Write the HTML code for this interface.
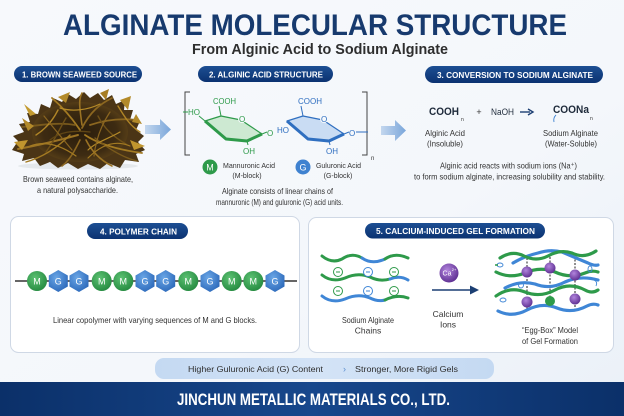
<!DOCTYPE html>
<html><head><meta charset="utf-8"><style>
html,body{margin:0;padding:0;background:#f5f8fc;}
svg{display:block;}
text{font-family:"Liberation Sans",sans-serif;}
</style></head><body>
<svg width="624" height="416" viewBox="0 0 624 416" xmlns="http://www.w3.org/2000/svg">
<defs>
<linearGradient id="bg" x1="0" y1="0" x2="1" y2="1">
<stop offset="0" stop-color="#f7f9fc"/><stop offset="0.6" stop-color="#f4f7fb"/><stop offset="1" stop-color="#eaf0f8"/>
</linearGradient>
<linearGradient id="pill" x1="0" y1="0" x2="0" y2="1">
<stop offset="0" stop-color="#1d4f93"/><stop offset="1" stop-color="#0b3271"/>
</linearGradient>
<linearGradient id="foot" x1="0" y1="0" x2="1" y2="0">
<stop offset="0" stop-color="#0b3069"/><stop offset="0.5" stop-color="#17478c"/><stop offset="1" stop-color="#0b3069"/>
</linearGradient>
<linearGradient id="arr" x1="0" y1="0" x2="1" y2="0">
<stop offset="0" stop-color="#c3d7ee"/><stop offset="1" stop-color="#7aa6da"/>
</linearGradient>
<radialGradient id="gM" cx="0.4" cy="0.35" r="0.7">
<stop offset="0" stop-color="#5cc172"/><stop offset="1" stop-color="#24893f"/>
</radialGradient>
<radialGradient id="gG" cx="0.4" cy="0.35" r="0.7">
<stop offset="0" stop-color="#6aa6e6"/><stop offset="1" stop-color="#2c69ba"/>
</radialGradient>
<radialGradient id="gCa" cx="0.4" cy="0.35" r="0.7">
<stop offset="0" stop-color="#b184dc"/><stop offset="1" stop-color="#5b2c8f"/>
</radialGradient>
<radialGradient id="sw" cx="0.5" cy="0.5" r="0.55">
<stop offset="0" stop-color="#2a1d0c"/><stop offset="0.7" stop-color="#3d2b12"/><stop offset="1" stop-color="#5e4419"/>
</radialGradient>
<linearGradient id="bpill" x1="0" y1="0" x2="1" y2="0">
<stop offset="0" stop-color="#c4d9f2"/><stop offset="0.5" stop-color="#d3e3f6"/><stop offset="1" stop-color="#c4d9f2"/>
</linearGradient>
</defs>

<rect x="0" y="0" width="624" height="416" fill="url(#bg)"/>

<!-- Title -->
<text x="63" y="35" font-size="30" font-weight="bold" fill="#173a6e" textLength="504" lengthAdjust="spacingAndGlyphs">ALGINATE MOLECULAR STRUCTURE</text>
<text x="192" y="54" font-size="14.5" font-weight="bold" fill="#2e2e2e" textLength="256" lengthAdjust="spacingAndGlyphs">From Alginic Acid to Sodium Alginate</text>

<!-- Pills row 1 -->
<rect x="14" y="66" width="128" height="16" rx="8" fill="url(#pill)"/>
<text x="22" y="77.5" font-size="8.5" font-weight="bold" fill="#fff" textLength="115" lengthAdjust="spacingAndGlyphs">1. BROWN SEAWEED SOURCE</text>
<rect x="198" y="66" width="135" height="16" rx="8" fill="url(#pill)"/>
<text x="209" y="77.5" font-size="8.5" font-weight="bold" fill="#fff" textLength="114" lengthAdjust="spacingAndGlyphs">2. ALGINIC ACID STRUCTURE</text>
<rect x="425" y="66" width="178" height="17" rx="8.5" fill="url(#pill)"/>
<text x="437" y="78" font-size="8.5" font-weight="bold" fill="#fff" textLength="156" lengthAdjust="spacingAndGlyphs">3. CONVERSION TO SODIUM ALGINATE</text>

<!-- Seaweed -->
<ellipse cx="78" cy="166" rx="60" ry="3.5" fill="#dde1e6" opacity="0.7"/>
<path d="M12,150 L18,141 L13,136 L24,132 L19,124 L30,122 L27,113 L38,114 L41,104 L50,108 L53,98 L62,102 L68,94 L76,99 L84,92 L90,98 L98,93 L104,100 L112,95 L116,104 L125,100 L124,110 L133,110 L130,120 L140,121 L136,130 L144,136 L138,142 L145,150 L136,154 L139,162 L125,160 L120,168 L108,163 L100,169 L88,164 L78,169 L68,163 L58,168 L50,162 L40,166 L34,158 L22,161 L24,154 Z" fill="#4b3516"/>
<ellipse cx="80" cy="132" rx="48" ry="30" fill="url(#sw)"/>
<g fill="none" stroke-linecap="round">
<path d="M80,130 C70,115 60,105 52,98" stroke="#a37a22" stroke-width="1.8"/>
<path d="M82,128 C90,112 100,104 112,98" stroke="#8c6720" stroke-width="1.8"/>
<path d="M78,135 C60,140 40,145 18,149" stroke="#9b7324" stroke-width="2"/>
<path d="M85,135 C100,145 120,150 142,153" stroke="#a37a22" stroke-width="1.8"/>
<path d="M80,140 C75,150 70,160 62,166" stroke="#8c6720" stroke-width="1.6"/>
<path d="M86,140 C92,152 100,160 112,166" stroke="#9b7324" stroke-width="1.6"/>
<path d="M75,125 C60,122 40,125 22,127" stroke="#7a5a1c" stroke-width="1.8"/>
<path d="M90,125 C105,120 120,118 136,120" stroke="#8c6720" stroke-width="1.8"/>
<path d="M70,135 C55,150 40,158 26,162" stroke="#a37a22" stroke-width="1.4"/>
<path d="M95,138 C110,150 125,158 137,161" stroke="#7a5a1c" stroke-width="1.4"/>
<path d="M82,125 C80,110 78,100 82,93" stroke="#9b7324" stroke-width="1.6"/>
<path d="M66,118 C60,128 56,138 46,152" stroke="#6e5018" stroke-width="1.4"/>
<path d="M98,116 C104,128 112,136 126,144" stroke="#6e5018" stroke-width="1.4"/>
<path d="M60,108 C72,112 88,110 100,104" stroke="#b58a28" stroke-width="1.2"/>
<path d="M50,140 C60,132 72,130 90,132" stroke="#5f4515" stroke-width="1.3"/>
<path d="M88,150 C96,142 110,138 120,132" stroke="#b58a28" stroke-width="1.2"/>
<path d="M36,135 C44,130 52,122 58,110" stroke="#b08526" stroke-width="1.4"/>
<path d="M118,106 C124,116 130,126 140,132" stroke="#b08526" stroke-width="1.4"/>
<path d="M44,116 C52,126 62,138 72,150" stroke="#8a6520" stroke-width="1.2"/>
<path d="M110,112 C102,124 96,138 94,156" stroke="#8a6520" stroke-width="1.2"/>
<path d="M30,146 C46,140 62,146 76,156" stroke="#a37a22" stroke-width="1.2"/>
<path d="M130,146 C116,140 102,144 88,158" stroke="#a37a22" stroke-width="1.2"/>
</g>
<path d="M22,118 L34,126 L28,131 Z" fill="#b38a2a"/>
<path d="M14,142 L28,140 L22,150 Z" fill="#c0952e"/>
<path d="M120,100 L131,96 L128,110 Z" fill="#b38a2a"/>
<path d="M130,140 L145,146 L134,150 Z" fill="#c0952e"/>
<path d="M58,97 L70,92 L66,103 Z" fill="#b38a2a"/>
<path d="M100,93 L109,89 L106,100 Z" fill="#a67d24"/>
<path d="M24,104 L36,114 L30,116 Z" fill="#c39a30"/>
<path d="M136,114 L142,124 L132,122 Z" fill="#b38a2a"/>

<text x="23" y="182" font-size="8.5" fill="#333" textLength="110" lengthAdjust="spacingAndGlyphs">Brown seaweed contains alginate,</text>
<text x="37" y="193" font-size="8.5" fill="#333" textLength="81" lengthAdjust="spacingAndGlyphs">a natural polysaccharide.</text>

<!-- Arrows -->
<path d="M145,125 H160 V119 L171,129.5 L160,140 V134 H145 Z" fill="url(#arr)"/>
<path d="M381,126 H395 V120 L406,130.5 L395,141 V135 H381 Z" fill="url(#arr)"/>

<!-- Section 2 structure -->
<path d="M190,92 H185 V155 H190" fill="none" stroke="#444" stroke-width="1"/>
<path d="M362,92 H367 V155 H362" fill="none" stroke="#444" stroke-width="1"/>
<text x="371" y="160" font-size="6" fill="#333">n</text>

<!-- green ring -->
<polygon points="205,121 221,116 241,120 262,134 247,141 226,139" fill="#cde9d2" stroke="#2e9a4a" stroke-width="1.2" stroke-linejoin="round"/>
<polyline points="205,121 226,139 247,141 262,134" fill="none" stroke="#2e9a4a" stroke-width="3" stroke-linejoin="round"/>
<line x1="221" y1="116" x2="219" y2="106" stroke="#2e9a4a" stroke-width="1"/>
<text x="213" y="104" font-size="8" fill="#2e9a4a" textLength="23" lengthAdjust="spacingAndGlyphs">COOH</text>
<line x1="183" y1="112" x2="188" y2="112" stroke="#2e9a4a" stroke-width="1"/>
<text x="188" y="115" font-size="8" fill="#2e9a4a">HO</text>
<line x1="199" y1="116" x2="205" y2="121" stroke="#2e9a4a" stroke-width="1"/>
<circle cx="242" cy="119" r="4" fill="#f6f9fc"/>
<text x="239" y="122" font-size="8" fill="#2e9a4a">O</text>
<line x1="262" y1="134" x2="267" y2="132" stroke="#2e9a4a" stroke-width="1"/>
<text x="267" y="136" font-size="8" fill="#2e9a4a">O</text>
<line x1="247" y1="141" x2="248" y2="145" stroke="#2e9a4a" stroke-width="1"/>
<text x="243" y="154" font-size="8" fill="#2e9a4a">OH</text>

<!-- blue ring -->
<polygon points="287,121 303,116 323,120 344,134 329,141 308,139" fill="#c9dcf3" stroke="#2f6fc0" stroke-width="1.2" stroke-linejoin="round"/>
<polyline points="287,121 308,139 329,141 344,134" fill="none" stroke="#2f6fc0" stroke-width="3" stroke-linejoin="round"/>
<line x1="303" y1="116" x2="301" y2="106" stroke="#2f6fc0" stroke-width="1"/>
<text x="298" y="104" font-size="8" fill="#2f6fc0" textLength="24" lengthAdjust="spacingAndGlyphs">COOH</text>
<text x="277" y="133" font-size="8" fill="#2f6fc0">HO</text>
<circle cx="324" cy="119" r="4" fill="#f6f9fc"/>
<text x="321" y="122" font-size="8" fill="#2f6fc0">O</text>
<line x1="344" y1="134" x2="349" y2="132" stroke="#2f6fc0" stroke-width="1"/>
<text x="349" y="136" font-size="8" fill="#2f6fc0">O</text>
<line x1="356" y1="132" x2="368" y2="132" stroke="#2f6fc0" stroke-width="1"/>
<line x1="329" y1="141" x2="330" y2="145" stroke="#2f6fc0" stroke-width="1"/>
<text x="326" y="154" font-size="8" fill="#2f6fc0">OH</text>

<!-- legend -->
<circle cx="210" cy="167" r="7.5" fill="#2e9a4a"/>
<text x="210" y="170.5" font-size="9" fill="#fff" text-anchor="middle">M</text>
<text x="223" y="168" font-size="7.5" fill="#333" textLength="52" lengthAdjust="spacingAndGlyphs">Mannuronic Acid</text>
<text x="247" y="178" font-size="7" fill="#333" text-anchor="middle">(M-block)</text>
<circle cx="303" cy="167" r="7.5" fill="#3f82d0"/>
<text x="303" y="170.5" font-size="9" fill="#fff" text-anchor="middle">G</text>
<text x="316" y="168" font-size="7.5" fill="#333" textLength="45" lengthAdjust="spacingAndGlyphs">Guluronic Acid</text>
<text x="338" y="178" font-size="7" fill="#333" text-anchor="middle">(G-block)</text>

<text x="222" y="194" font-size="8.5" fill="#333" textLength="111" lengthAdjust="spacingAndGlyphs">Alginate consists of linear chains of</text>
<text x="216" y="205" font-size="8.5" fill="#333" textLength="127" lengthAdjust="spacingAndGlyphs">mannuronic (M) and guluronic (G) acid units.</text>

<!-- Section 3 -->
<text x="429" y="115" font-size="11" font-weight="bold" fill="#1e2a3a" textLength="30" lengthAdjust="spacingAndGlyphs">COOH</text>
<text x="461" y="121" font-size="5" fill="#333">n</text>
<text x="479" y="115" font-size="9" fill="#333" text-anchor="middle">+</text>
<text x="491" y="115" font-size="9" fill="#1e2a3a" textLength="23" lengthAdjust="spacingAndGlyphs">NaOH</text>
<line x1="520" y1="112" x2="530" y2="112" stroke="#1c3f73" stroke-width="1.4"/>
<path d="M528,109 L533,112 L528,115" fill="none" stroke="#1c3f73" stroke-width="1.4"/>
<text x="553" y="113" font-size="11" font-weight="bold" fill="#1e2a3a" textLength="36" lengthAdjust="spacingAndGlyphs">COONa</text>
<text x="590" y="120" font-size="5" fill="#333">n</text>
<path d="M556,115 Q553,118 554,122" fill="none" stroke="#3f82d0" stroke-width="0.9"/>

<text x="425" y="136" font-size="8.5" fill="#333" textLength="40" lengthAdjust="spacingAndGlyphs">Alginic Acid</text>
<text x="427" y="146.5" font-size="8" fill="#333" textLength="36" lengthAdjust="spacingAndGlyphs">(Insoluble)</text>
<text x="543" y="136" font-size="8.5" fill="#333" textLength="55" lengthAdjust="spacingAndGlyphs">Sodium Alginate</text>
<text x="545" y="146.5" font-size="8" fill="#333" textLength="52" lengthAdjust="spacingAndGlyphs">(Water-Soluble)</text>
<text x="440" y="168.5" font-size="8.5" fill="#333" textLength="137" lengthAdjust="spacingAndGlyphs">Alginic acid reacts with sodium ions (Na⁺)</text>
<text x="414" y="179.5" font-size="8.5" fill="#333" textLength="191" lengthAdjust="spacingAndGlyphs">to form sodium alginate, increasing solubility and stability.</text>

<!-- Panel 4 -->
<rect x="10.5" y="216.5" width="289" height="136" rx="8" fill="#fff" stroke="#cfd8e5" stroke-width="1"/>
<rect x="87" y="223" width="101" height="16" rx="8" fill="url(#pill)"/>
<text x="100" y="234.5" font-size="8.5" font-weight="bold" fill="#fff" textLength="77" lengthAdjust="spacingAndGlyphs">4. POLYMER CHAIN</text>
<line x1="15" y1="281" x2="297" y2="281" stroke="#333" stroke-width="1.5"/>
<g font-size="9" fill="#fff" text-anchor="middle">
<circle cx="37" cy="281" r="10" fill="url(#gM)"/><text x="37" y="284.5">M</text>
<polygon points="58.3,270 67.8,275.5 67.8,286.5 58.3,292 48.8,286.5 48.8,275.5" fill="url(#gG)"/><text x="58.3" y="284.5">G</text>
<polygon points="79,270 88.5,275.5 88.5,286.5 79,292 69.5,286.5 69.5,275.5" fill="url(#gG)"/><text x="79" y="284.5">G</text>
<circle cx="101.7" cy="281" r="10" fill="url(#gM)"/><text x="101.7" y="284.5">M</text>
<circle cx="123.3" cy="281" r="10" fill="url(#gM)"/><text x="123.3" y="284.5">M</text>
<polygon points="145,270 154.5,275.5 154.5,286.5 145,292 135.5,286.5 135.5,275.5" fill="url(#gG)"/><text x="145" y="284.5">G</text>
<polygon points="165.7,270 175.2,275.5 175.2,286.5 165.7,292 156.2,286.5 156.2,275.5" fill="url(#gG)"/><text x="165.7" y="284.5">G</text>
<circle cx="188.3" cy="281" r="10" fill="url(#gM)"/><text x="188.3" y="284.5">M</text>
<polygon points="210,270 219.5,275.5 219.5,286.5 210,292 200.5,286.5 200.5,275.5" fill="url(#gG)"/><text x="210" y="284.5">G</text>
<circle cx="231.7" cy="281" r="10" fill="url(#gM)"/><text x="231.7" y="284.5">M</text>
<circle cx="253.3" cy="281" r="10" fill="url(#gM)"/><text x="253.3" y="284.5">M</text>
<polygon points="275,270 284.5,275.5 284.5,286.5 275,292 265.5,286.5 265.5,275.5" fill="url(#gG)"/><text x="275" y="284.5">G</text>
</g>
<text x="53" y="323" font-size="8.5" fill="#333" textLength="204" lengthAdjust="spacingAndGlyphs">Linear copolymer with varying sequences of M and G blocks.</text>

<!-- Panel 5 -->
<rect x="308.5" y="217.5" width="305" height="135" rx="8" fill="#fff" stroke="#cfd8e5" stroke-width="1"/>
<rect x="365" y="223" width="180" height="15.5" rx="7.75" fill="url(#pill)"/>
<text x="376" y="234.2" font-size="8.5" font-weight="bold" fill="#fff" textLength="159" lengthAdjust="spacingAndGlyphs">5. CALCIUM-INDUCED GEL FORMATION</text>

<g fill="none" stroke-width="3" stroke-linecap="round">
<path d="M322,256 Q332,264 342,259 Q352,252 362,258" stroke="#2e9a4a"/>
<path d="M362,258 Q372,265 385,259" stroke="#3f86d6"/>
<path d="M385,259 Q395,252 408,258" stroke="#2e9a4a"/>
<path d="M322,275 Q332,283 345,278 Q358,272 370,277 Q380,282 390,279" stroke="#2e9a4a"/>
<path d="M390,279 Q400,275 408,280" stroke="#3f86d6"/>
<path d="M322,296 Q332,304 345,299 Q358,293 370,298 Q378,302 385,300" stroke="#3f86d6"/>
<path d="M385,300 Q397,294 408,298" stroke="#2e9a4a"/>
</g>
<g fill="#fff" stroke-width="1">
<circle cx="338" cy="272" r="4.5" stroke="#2e9a4a"/>
<circle cx="368" cy="272" r="4.5" stroke="#3f86d6"/>
<circle cx="394" cy="272" r="4.5" stroke="#2e9a4a"/>
<circle cx="338" cy="291" r="4.5" stroke="#2e9a4a"/>
<circle cx="368" cy="291" r="4.5" stroke="#3f86d6"/>
<circle cx="394" cy="291" r="4.5" stroke="#2e9a4a"/>
</g>
<g stroke-width="1">
<line x1="336" y1="272" x2="340" y2="272" stroke="#2e9a4a"/>
<line x1="366" y1="272" x2="370" y2="272" stroke="#3f86d6"/>
<line x1="392" y1="272" x2="396" y2="272" stroke="#2e9a4a"/>
<line x1="336" y1="291" x2="340" y2="291" stroke="#2e9a4a"/>
<line x1="366" y1="291" x2="370" y2="291" stroke="#3f86d6"/>
<line x1="392" y1="291" x2="396" y2="291" stroke="#2e9a4a"/>
</g>
<text x="368" y="323" font-size="8.5" fill="#333" text-anchor="middle" textLength="52" lengthAdjust="spacingAndGlyphs">Sodium Alginate</text>
<text x="368" y="333.5" font-size="8.5" fill="#333" text-anchor="middle">Chains</text>

<circle cx="449" cy="273" r="9.5" fill="url(#gCa)"/>
<text x="447" y="275.5" font-size="7" fill="#fff" text-anchor="middle">Ca</text>
<text x="454" y="271" font-size="4" fill="#fff" text-anchor="middle">2+</text>
<line x1="432" y1="290" x2="472" y2="290" stroke="#1c3f73" stroke-width="1.6"/>
<path d="M470,285.5 L479,290 L470,294.5 Z" fill="#1c3f73"/>
<text x="448" y="317" font-size="8.5" fill="#333" text-anchor="middle">Calcium</text>
<text x="448" y="327.5" font-size="8.5" fill="#333" text-anchor="middle">Ions</text>

<!-- egg box -->
<g stroke="#222" stroke-width="1" stroke-dasharray="2,1.5">
<line x1="527" y1="258" x2="527" y2="310"/>
<line x1="550" y1="250" x2="550" y2="300"/>
<line x1="575" y1="256" x2="575" y2="310"/>
</g>
<g fill="none" stroke-width="3.2" stroke-linecap="round">
<path d="M513,263 Q525,256 538,253 Q550,249 562,252 Q576,258 588,263 Q594,266 598,265" stroke="#3f86d6"/>
<path d="M500,258 Q512,250 524,256 Q536,262 548,256 Q560,249 572,253 Q584,259 596,251" stroke="#2e9a4a"/>
<path d="M496,272 Q510,279 525,273 Q540,266 555,272 Q570,279 585,273 Q592,270 598,272" stroke="#2e9a4a"/>
<path d="M505,288 Q520,280 535,284 Q550,290 565,282 Q580,275 598,280" stroke="#3f86d6"/>
<path d="M496,296 Q510,286 525,292 Q540,298 555,290 Q570,282 585,290 Q592,294 598,290" stroke="#2e9a4a"/>
<path d="M498,311 Q512,318 527,310 Q542,302 557,308 Q572,314 587,306 Q593,303 598,305" stroke="#3f86d6"/>
</g>
<g fill="url(#gCa)">
<circle cx="527" cy="272" r="5.5"/>
<circle cx="550" cy="268" r="5.5"/>
<circle cx="575" cy="275" r="5.5"/>
<circle cx="527" cy="302" r="5.5"/>
<circle cx="575" cy="299" r="5.5"/>
</g>
<circle cx="550" cy="301" r="5" fill="#2e9a4a"/>
<g fill="none" stroke="#3f86d6" stroke-width="0.9">
<ellipse cx="500" cy="265" rx="3" ry="2"/>
<ellipse cx="521" cy="285" rx="2.5" ry="3"/>
<ellipse cx="503" cy="300" rx="3" ry="2"/>
<ellipse cx="590" cy="269" rx="2" ry="3"/>
<path d="M594,280 Q598,282 596,286"/>
</g>
<line x1="495" y1="265" x2="498" y2="265" stroke="#2e9a4a" stroke-width="1.5"/>
<text x="550" y="333" font-size="8.5" fill="#333" text-anchor="middle" textLength="56" lengthAdjust="spacingAndGlyphs">“Egg-Box” Model</text>
<text x="550" y="344" font-size="8.5" fill="#333" text-anchor="middle" textLength="56" lengthAdjust="spacingAndGlyphs">of Gel Formation</text>

<!-- bottom pill -->
<rect x="155" y="358" width="339" height="21" rx="9" fill="url(#bpill)"/>
<text x="188" y="372" font-size="8.5" fill="#2e2e2e" textLength="135" lengthAdjust="spacingAndGlyphs">Higher Guluronic Acid (G) Content</text>
<text x="343" y="372" font-size="9" fill="#5b8fd0">›</text>
<text x="355" y="372" font-size="8.5" fill="#2e2e2e" textLength="103" lengthAdjust="spacingAndGlyphs">Stronger, More Rigid Gels</text>

<!-- footer -->
<rect x="0" y="382" width="624" height="34" fill="url(#foot)"/>
<text x="177" y="405" font-size="16.5" font-weight="bold" fill="#fff" textLength="273" lengthAdjust="spacingAndGlyphs">JINCHUN METALLIC MATERIALS CO., LTD.</text>
</svg>
</body></html>
